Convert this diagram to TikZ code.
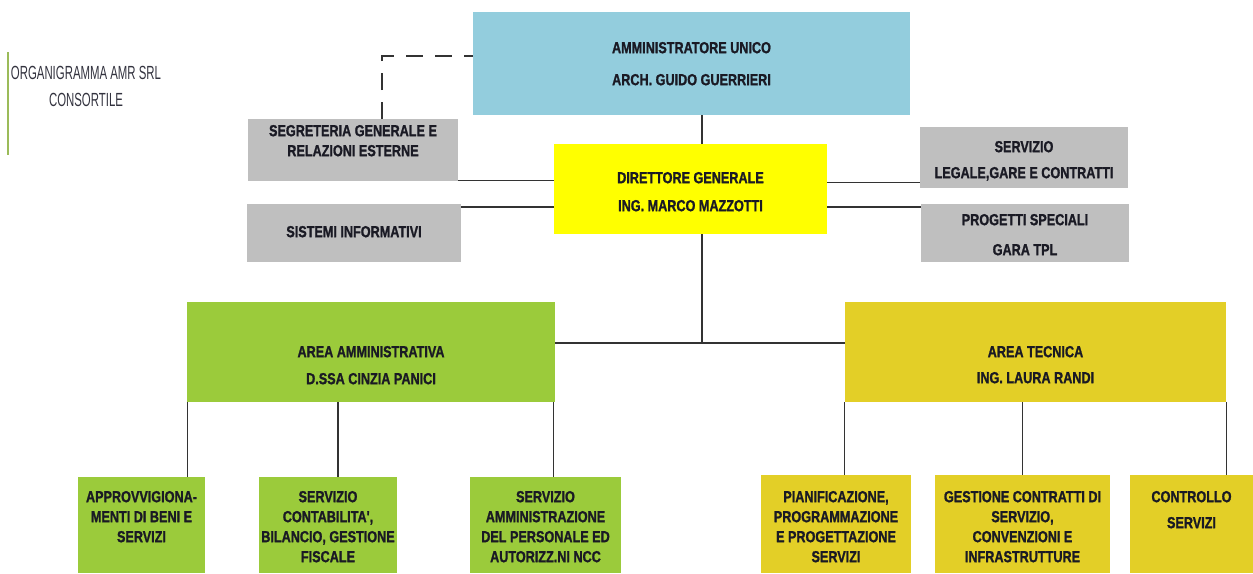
\documentclass[tikz,border=0pt]{standalone}
\usepackage{fontspec}
\usepackage{tikz}
\usetikzlibrary{calc}
\newfontfamily\boxfont[FakeStretch=0.79,BoldFeatures={FakeBold=1.2}]{Liberation Sans}
\newfontfamily\titlefont[FakeStretch=0.6]{Liberation Sans}
\definecolor{boardblue}{HTML}{93CDDD}
\definecolor{dgyellow}{HTML}{FFFF00}
\definecolor{staffgray}{HTML}{BFBFBF}
\definecolor{admgreen}{HTML}{9BCB3B}
\definecolor{tecgold}{HTML}{E3CF27}
\definecolor{ink}{HTML}{1A1A24}
\definecolor{titleink}{HTML}{33333F}
\definecolor{titlebar}{HTML}{9BBB59}

\begin{document}
\begin{tikzpicture}[
    x=1pt,y=-1pt,
    wire/.style={draw=black!80,line width=1.3pt},
    dashwire/.style={wire,dash pattern=on 17pt off 12pt},
    unitbox/.style={anchor=north,inner sep=0pt,align=center,text=ink,
      font=\boxfont\bfseries\fontsize{16}{20}\selectfont},
    board/.style={unitbox,fill=boardblue},
    director/.style={unitbox,fill=dgyellow},
    staff/.style={unitbox,fill=staffgray},
    areaadm/.style={unitbox,fill=admgreen},
    areatec/.style={unitbox,fill=tecgold},
    leafadm/.style 2 args={areaadm,text height=#1,text depth=#2},
    leaftec/.style 2 args={areatec,text height=#1,text depth=#2},
    heading/.style={font=\titlefont\fontsize{19}{27}\selectfont,
      text=titleink,align=center,inner sep=0pt}
  ]
    \useasboundingbox (0,0) rectangle (1253,573);

    % Title with its green bar.
    \draw[titlebar,line width=2pt] (8,52) -- (8,155);
    \node[heading] (title) at (86,86) {ORGANIGRAMMA AMR SRL\\CONSORTILE};

    % Board and general director.
    \node[board,minimum width=437pt,text height=73pt,text depth=30pt]
      (admin) at (691.5,12) {AMMINISTRATORE UNICO\\[12pt]ARCH. GUIDO GUERRIERI};
    \node[director,minimum width=273pt,text height=67pt,text depth=23pt]
      (dg) at (690.5,144) {DIRETTORE GENERALE\\[8pt]ING. MARCO MAZZOTTI};

    % Staff offices.
    \node[staff,minimum width=210pt,text height=37pt,text depth=25pt]
      (segr) at (353,119) {SEGRETERIA GENERALE E\\RELAZIONI ESTERNE};
    \node[staff,minimum width=214pt,text height=33pt,text depth=25pt]
      (sist) at (354,204) {SISTEMI INFORMATIVI};
    \node[staff,minimum width=208pt,text height=51pt,text depth=10pt]
      (legale) at (1024,127) {SERVIZIO\\[6pt]LEGALE,GARE E CONTRATTI};
    \node[staff,minimum width=208pt,text height=51pt,text depth=7pt]
      (progetti) at (1025,204) {PROGETTI SPECIALI\\[10pt]GARA TPL};

    % The two areas.
    \node[areaadm,minimum width=368pt,text height=82pt,text depth=18pt]
      (amm) at (371,302) {AREA AMMINISTRATIVA\\[7pt]D.SSA CINZIA PANICI};
    \node[areatec,minimum width=381pt,text height=81pt,text depth=19pt]
      (tec) at (1035.5,302) {AREA TECNICA\\[6pt]ING. LAURA RANDI};

    % Services of the administrative area.
    \node[leafadm={65pt}{31pt},minimum width=127pt] (approv) at (141.5,477)
      {APPROVVIGIONA-\\MENTI DI BENI E\\SERVIZI};
    \node[leafadm={85pt}{11pt},minimum width=138pt] (contab) at (328,477)
      {SERVIZIO\\CONTABILITA',\\BILANCIO, GESTIONE\\FISCALE};
    \node[leafadm={85pt}{11pt},minimum width=151pt] (personale) at (545.5,477)
      {SERVIZIO\\AMMINISTRAZIONE\\DEL PERSONALE ED\\AUTORIZZ.NI NCC};

    % Services of the technical area.
    \node[leaftec={87pt}{11pt},minimum width=150pt] (pianif) at (836,475)
      {PIANIFICAZIONE,\\PROGRAMMAZIONE\\E PROGETTAZIONE\\SERVIZI};
    \node[leaftec={87pt}{11pt},minimum width=175pt] (contratti) at (1022.5,475)
      {GESTIONE CONTRATTI DI\\SERVIZIO,\\CONVENZIONI E\\INFRASTRUTTURE};
    \node[leaftec={53pt}{45pt},minimum width=123pt] (controllo) at (1191.5,475)
      {CONTROLLO\\[6pt]SERVIZI};

    % Connectors.
    \coordinate (spine) at (702,343);
    \coordinate (dashc) at (382,56);
    \draw[dashwire] (segr.north -| dashc) |- (admin.west |- dashc);
    \draw[wire] (admin.south -| spine) -- (dg.north -| spine);
    \draw[wire] (dg.south -| spine) -- (spine);
    \draw[wire] (amm.east |- spine) -- (tec.west |- spine);
    \draw[wire] ([yshift=1pt]segr.south east) -- ([yshift=1pt]segr.south east -| dg.west);
    \draw[wire] ([yshift=-3pt]sist.north east) -- ([yshift=-3pt]sist.north east -| dg.west);
    \draw[wire] ([yshift=6pt]legale.south west) -- ([yshift=6pt]legale.south west -| dg.east);
    \draw[wire] ([yshift=-3pt]progetti.north west) -- ([yshift=-3pt]progetti.north west -| dg.east);
    \draw[wire] ([xshift=1pt]amm.south west) -- ([xshift=1pt]amm.south west |- approv.north);
    \draw[wire] (amm.south -| 338,0) -- (contab.north -| 338,0);
    \draw[wire] ([xshift=-2pt]amm.south east) -- ([xshift=-2pt]amm.south east |- personale.north);
    \draw[wire] (tec.south west) -- (tec.south west |- pianif.north);
    \draw[wire] (contratti.north) -- (contratti.north |- tec.south);
    \draw[wire] (tec.south east) -- (tec.south east |- controllo.north);
\end{tikzpicture}
\end{document}
